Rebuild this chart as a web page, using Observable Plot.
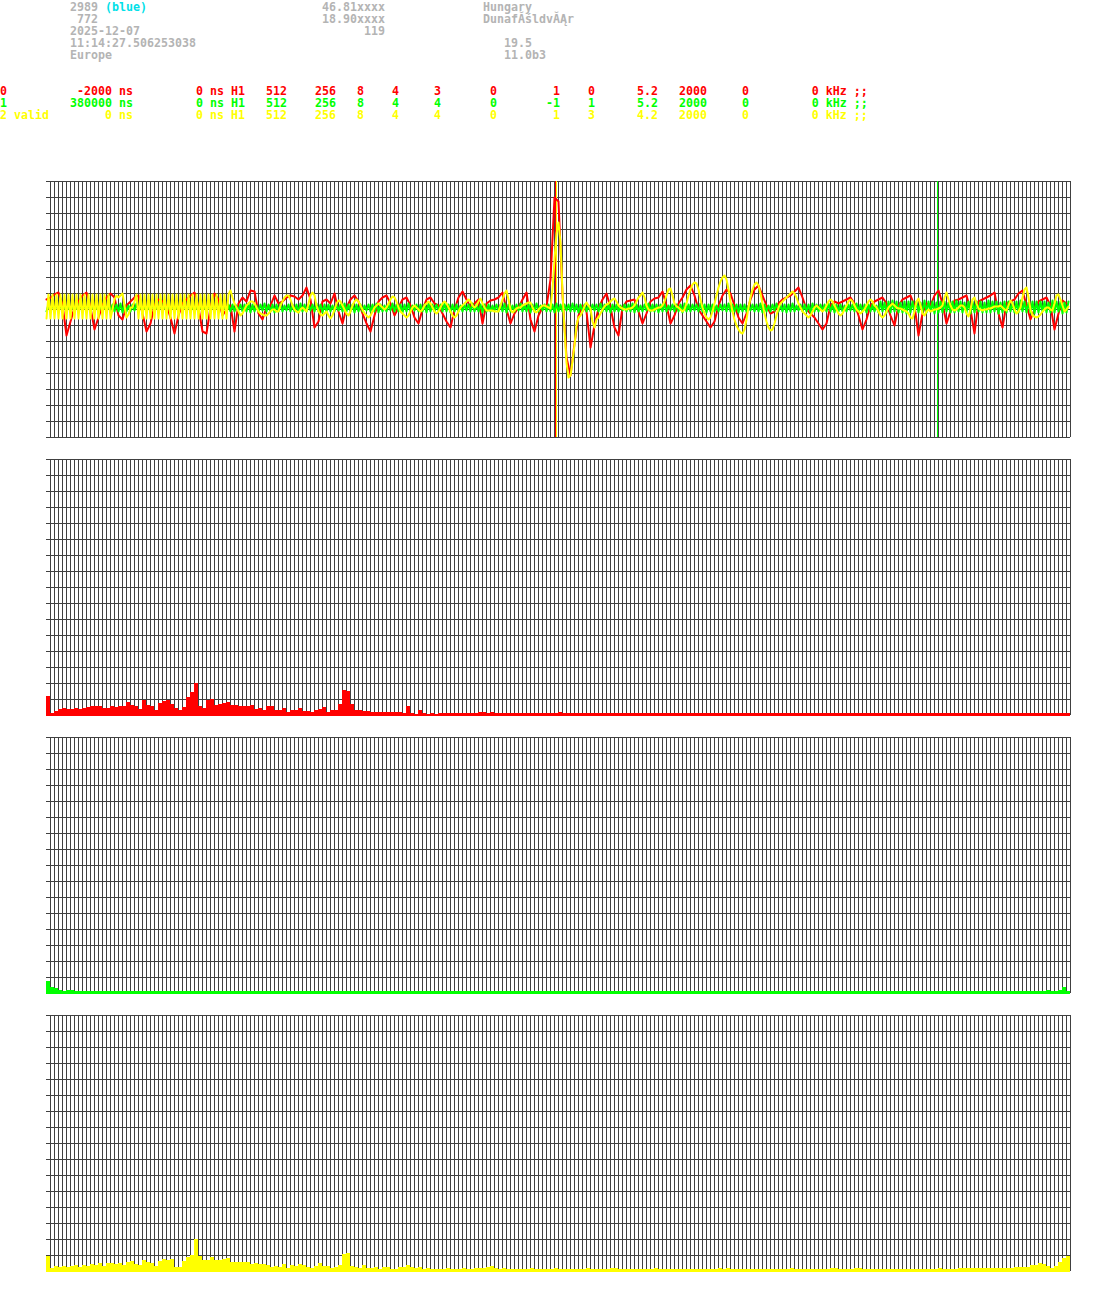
<!DOCTYPE html>
<html><head><meta charset="utf-8">
<script src="https://cdn.jsdelivr.net/npm/d3@7"></script>
<script src="https://cdn.jsdelivr.net/npm/@observablehq/plot@0.6"></script>
<style>
body{margin:0;background:#fff;}
#hdr{position:relative;height:175px;font-family:"DejaVu Sans Mono","Liberation Mono",monospace;font-weight:bold;font-size:11.63px;}
.t{position:absolute;white-space:pre;line-height:12px;}
svg{display:block}
</style></head><body>
<div id="hdr"></div>
<div id="charts"></div>
<script>
// ---------- header texts ----------
const infoText  = ["2989","(blue)","46.81xxxx","Hungary"," 772","18.90xxxx","DunafĂśldvĂĄr","2025-12-07","119","11:14:27.506253038","19.5","Europe","11.0b3"];
const infoRow   = [0,0,0,0,1,1,1,2,2,3,3,4,4];
const infoCol   = [10,15,46,69,10,46,69,10,52,10,72,10,72];
const infoColor = ["#b4b4b4","#00e0e8","#b4b4b4","#b4b4b4","#b4b4b4","#b4b4b4","#b4b4b4","#b4b4b4","#b4b4b4","#b4b4b4","#b4b4b4","#b4b4b4","#b4b4b4"];

const chanFields = [
 ["0","-2000 ns","0 ns H1","512","256","8","4","3","0","1","0","5.2","2000","0","0 kHz ;;"],
 ["1","380000 ns","0 ns H1","512","256","8","4","4","0","-1","1","5.2","2000","0","0 kHz ;;"],
 ["2 valid","0 ns","0 ns H1","512","256","8","4","4","0","1","3","4.2","2000","0","0 kHz ;;"]
];
const chanEnds  = [0,19,35,41,48,52,57,63,71,80,85,94,101,107,124];
const chanRow   = [7,8,9];
const chanColor = ["#ff0000","#00ff00","#ffff00"];

// ---------- waveforms (value = pixels above panel centre) ----------
// red: one value every 2 samples
const redWave = [
 10,12,15,17,5,-26,-12,2,8,14,17,2,-20,-8,4,12,
 16,12,-6,-10,4,8,12,14,-4,-22,-14,4,10,8,4,-8,
 -24,-6,6,10,14,17,2,-22,-24,2,16,10,-6,0,4,-22,
 6,12,8,19,18,-4,-10,2,4,14,6,8,12,14,13,10,
 14,22,10,-18,-12,8,10,6,16,-2,-14,2,10,14,8,-4,
 -14,-22,-6,8,12,14,6,-6,2,10,12,4,-8,-14,0,10,
 12,6,4,-4,-12,-18,0,12,18,10,2,6,10,-14,6,9,
 10,12,17,0,-14,-4,2,10,17,-10,-22,-6,2,3,30,112,
 108,15,-48,-66,-34,-6,4,-2,-38,-16,1,10,16,2,-18,-26,
 2,8,9,10,-2,-14,-4,8,11,12,18,4,-14,-6,6,12,
 20,24,14,0,-6,-12,-18,-12,4,14,20,16,4,-8,-14,-4,
 10,20,24,14,4,-4,-2,6,10,12,14,18,22,12,0,-4,
 -8,-14,-20,-14,4,8,6,8,10,12,6,-6,-20,-10,4,8,
 10,12,6,-6,-16,4,10,12,14,4,-26,-4,6,4,14,19,
 6,-14,-2,9,10,12,14,0,-24,8,10,12,14,17,-4,-18,
 6,8,10,16,19,4,-10,0,8,10,12,4,-20,-4,9,6
];
// yellow: one value per sample
const yellowWave = [
 -9,15,-9,15,-9,15,-9,15,-9,15,-9,15,-9,15,-9,15,-9,15,-9,15,-9,15,-9,15,-9,15,-9,15,-9,15,-9,15,
 -9,0,10,14,12,14,16,4,-8,-5,2,2,8,15,-9,15,-9,15,-9,15,-9,15,-9,15,-9,15,-9,15,-9,15,-9,15,
 -9,15,-9,15,-9,15,-9,15,-9,15,-9,15,-9,15,-9,15,-9,15,-9,15,-9,15,-9,15,-9,15,-9,15,19,12,6,2,
 -2,-6,-4,0,4,6,8,8,6,2,-2,-4,-5,-6,-6,-4,-2,0,0,-2,-2,4,8,12,14,14,10,4,0,-2,-3,0,
 2,0,-2,6,14,17,14,4,-2,-5,-6,-4,-2,-6,-9,-6,0,6,9,8,4,0,-4,-6,-2,4,8,10,8,4,0,-4,
 -6,-8,-6,-2,2,4,6,4,2,0,2,6,10,13,12,8,2,-2,-4,-6,-8,-6,-2,2,4,2,0,-2,0,4,6,8,
 6,2,-2,-4,-2,2,6,8,6,2,-2,-6,-8,-6,-2,2,4,6,8,10,8,4,2,4,8,11,6,2,-1,-1,-1,-1,
 -2,-2,-2,4,10,16,19,10,0,-3,-1,1,2,2,4,5,6,7,7,2,-2,-3,0,2,4,4,3,2,1,20,50,76,
 87,67,17,-20,-53,-68,-66,-52,-36,-16,-8,-6,-2,3,7,4,1,-12,-18,-10,-8,-4,0,3,5,6,8,10,11,8,4,2,
 1,0,0,1,1,2,4,8,12,14,17,12,4,0,-1,-1,0,1,2,2,4,8,14,20,21,14,6,3,2,0,-2,0,
 6,14,20,25,27,26,20,10,2,-4,-8,-10,-8,-2,6,14,22,28,32,34,30,20,8,-2,-10,-16,-20,-23,-24,-20,-10,2,
 12,20,25,27,24,16,6,-4,-12,-18,-21,-20,-14,-6,2,6,8,10,12,14,16,18,16,12,6,2,-2,-4,-6,-8,-6,-2,
 2,4,2,0,-2,0,4,8,10,8,4,0,-4,-6,-4,0,4,8,10,8,4,0,-2,-4,-2,0,4,8,10,8,4,2,
 -2,-6,-8,-6,-2,2,4,6,4,2,1,1,0,-1,-2,-4,-8,-9,-2,8,11,4,-4,-6,-2,0,-2,-1,0,0,1,2,
 4,12,17,10,4,0,-1,0,2,4,4,2,-4,-7,0,10,12,6,1,0,-1,0,0,1,1,2,3,3,3,4,2,0,
 -1,4,9,6,0,-4,-2,2,12,20,22,12,0,-6,-7,-8,-7,-5,-2,0,2,2,0,-1,6,14,15,10,4,-2,0,3
];
// green: one value per sample
const greenWave = [
 -2,5,-2,5,-1,5,-2,6,-2,5,-3,5,-2,5,-2,4,-2,5,-1,5,-2,6,-2,5,-2,5,-3,5,-2,5,-2,4,
 -1,5,-2,5,-2,6,-3,5,-2,4,-2,5,-1,6,-2,5,-2,5,-3,5,-2,6,-2,4,-1,5,-2,5,-2,5,-3,6,
 -2,5,-2,5,-1,5,-2,6,-2,5,-3,5,-2,5,-2,4,-2,5,-1,5,-2,6,-2,5,-2,5,-3,5,-2,5,-2,4,
 -1,5,-2,5,-2,6,-3,5,-2,4,-2,5,-1,6,-2,5,-2,5,-3,5,-2,6,-2,4,-1,5,-2,5,-2,5,-3,6,
 -2,5,-2,5,-1,5,-2,6,-2,5,-3,5,-2,5,-2,4,-2,5,-1,5,-2,6,-2,5,-2,5,-3,5,-2,5,-2,4,
 -1,5,-2,5,-2,6,-3,5,-2,4,-2,5,-1,6,-2,5,-2,5,-3,5,-2,6,-2,4,-1,5,-2,5,-2,5,-3,6,
 -2,5,-2,5,-1,5,-2,6,-2,5,-3,5,-2,5,-2,4,-2,5,-1,5,-2,6,-2,5,-2,5,-3,5,-2,5,-2,4,
 -1,5,-2,5,-2,6,-3,5,-2,4,-2,5,-1,6,-2,5,-2,5,-3,5,-2,6,-2,4,-1,5,-2,5,-2,5,-3,6,
 -2,5,-2,5,-1,5,-2,6,-2,5,-3,5,-2,5,-2,4,-2,5,-1,5,-2,6,-2,5,-2,5,-3,5,-2,5,-2,4,
 -1,5,-2,5,-2,6,-3,5,-2,4,-2,5,-1,6,-2,5,-2,5,-3,5,-2,6,-2,4,-1,5,-2,5,-2,5,-3,6,
 -2,5,-2,5,-1,5,-2,6,-2,5,-3,5,-2,5,-2,4,-2,5,-1,5,-2,6,-2,5,-2,5,-3,5,-2,5,-2,4,
 -1,5,-2,5,-2,6,-3,5,-2,4,-2,5,-1,6,-2,5,-2,5,-3,5,-2,6,-2,4,-1,5,-2,5,-2,5,-3,6,
 -2,5,-2,5,-1,5,-2,6,-2,5,-3,5,-2,5,-2,4,-2,5,-1,5,-2,6,-2,5,-2,5,-3,5,-2,5,-2,4,
 -3,8,-2,7,-3,8,-3,9,-2,8,-3,7,-3,8,-4,8,-3,8,-2,8,-3,7,-3,9,-3,8,-2,8,-4,7,-3,8,
 -3,8,-2,7,-3,8,-3,9,-2,8,-3,7,-3,8,-4,8,-3,8,-2,8,-3,7,-3,9,-3,8,-2,8,-4,7,-3,8,
 -3,8,-2,7,-3,8,-3,9,-2,8,-3,7,-3,8,-4,8,-3,8,-2,8,-3,7,-3,9,-3,8,-2,8,-4,7,-3,8
];
// trigger markers (sample index)
const markerSample = [254.5, 255, 445.5];
const markerColor  = ["#ff0000","#ffff00","#00ff00"];

// ---------- spectra (bar heights, 256 bins) ----------
const redSpec = [
 19,2,4,6,7,6,6,7,6,7,8,9,9,9,7,7,
 9,8,9,9,13,10,9,6,15,10,9,5,12,14,15,11,
 7,5,8,18,23,32,9,7,15,16,10,11,12,13,10,10,
 9,9,9,10,6,7,5,9,9,5,5,7,3,5,5,7,
 4,4,3,5,6,8,3,5,5,11,25,24,11,5,5,4,
 4,3,3,3,3,3,3,3,3,2,9,2,1,5,2,1,
 2,1,2,2,2,2,2,2,2,2,2,2,3,3,2,3,
 2,2,2,2,2,2,2,2,2,2,2,2,2,2,2,2,
 3,2,2,2,2,2,2,2,2,2,2,2,2,2,2,2,
 2,2,2,2,2,2,2,2,2,2,2,2,2,2,2,2,
 2,2,2,2,2,2,2,2,2,2,2,2,2,2,2,2,
 2,2,2,2,2,2,2,2,2,2,2,2,2,2,2,2,
 2,2,2,2,2,2,2,2,2,2,2,2,2,2,2,2,
 2,2,2,2,2,2,2,2,2,2,2,2,2,2,2,2,
 2,2,2,2,2,2,2,2,2,2,2,2,2,2,2,2,
 2,2,2,2,2,2,2,2,2,2,2,2,2,2,2,2
];
const greenSpec = [
 12,6,5,3,2,3,3,2,2,2,2,2,2,2,2,2,
 2,2,2,2,2,2,2,2,2,2,2,2,2,2,2,2,
 2,2,2,2,2,2,2,2,2,2,2,2,2,2,2,2,
 2,2,2,2,2,2,2,2,2,2,2,2,2,2,2,2,
 2,2,2,2,2,2,2,2,2,2,2,2,2,2,2,2,
 2,2,2,2,2,2,2,2,2,2,2,2,2,2,2,2,
 2,2,2,2,2,2,2,2,2,2,2,2,2,2,2,2,
 2,2,2,2,2,2,2,2,2,2,2,2,2,2,2,2,
 2,2,2,2,2,2,2,2,2,2,2,2,2,2,2,2,
 2,2,2,2,2,2,2,2,2,2,2,2,2,2,2,2,
 2,2,2,2,2,2,2,2,2,2,2,2,2,2,2,2,
 2,2,2,2,2,2,2,2,2,2,2,2,2,2,2,2,
 2,2,2,2,2,2,2,2,2,2,2,2,2,2,2,2,
 2,2,2,2,2,2,2,2,2,2,2,2,2,2,2,2,
 2,2,2,2,2,2,2,2,2,2,2,2,2,2,2,2,
 2,2,2,2,2,2,2,2,2,2,3,2,2,3,6,2
];
const yellowSpec = [
 15,3,5,4,5,4,5,6,4,6,5,7,6,8,5,8,
 8,7,8,6,9,10,7,6,11,9,8,5,10,12,11,12,
 4,4,10,14,16,32,15,11,11,14,11,11,12,13,9,9,
 9,9,9,7,8,7,7,6,4,5,4,7,3,6,5,7,
 6,4,3,5,8,5,5,3,4,6,17,18,5,4,3,6,
 3,3,4,2,4,4,2,2,4,4,6,4,3,4,2,3,
 2,2,2,2,3,2,2,2,3,2,2,3,3,3,4,5,
 3,2,3,2,2,2,2,2,2,3,2,2,2,2,2,3,
 2,2,2,2,2,2,2,3,2,2,2,2,2,3,3,2,
 2,2,2,2,2,2,2,2,3,2,2,2,2,2,2,2,
 2,2,2,2,2,2,2,2,3,2,3,2,2,2,2,2,
 2,2,2,2,2,2,2,2,2,2,3,2,2,2,2,2,
 2,2,2,2,3,3,2,2,2,2,3,3,2,2,2,2,
 2,2,2,2,2,2,2,2,2,2,2,2,2,2,2,3,
 2,2,2,2,3,3,3,3,3,3,3,3,3,3,3,3,
 3,3,4,4,4,4,6,6,8,7,5,3,5,9,13,15
];

// ---------- header rendering ----------
const CW = 7, LH = 12;
const hdr = document.getElementById("hdr");
function put(text, col, row, color){
  const d = document.createElement("div");
  d.className = "t";
  d.textContent = text;
  d.style.left = (col*CW) + "px";
  d.style.top = (row*LH + 1) + "px";
  d.style.color = color;
  hdr.appendChild(d);
}
infoText.forEach((t,i)=>put(t, infoCol[i], infoRow[i], infoColor[i]));
chanFields.forEach((fields,r)=>{
  let line = fields[0];
  for (let k=1;k<fields.length;k++) line += fields[k].padStart(chanEnds[k]-line.length);
  put(line, 0, chanRow[r], chanColor[r]);
});

// ---------- plots ----------
const gridColor = "#404040";
const vX = d3.range(4, 1025, 4);
function panel(yDomain, yTicks, marks){
  return Plot.plot({
    width: 1095, height: 278,
    marginTop: 6, marginBottom: 16, marginLeft: 46, marginRight: 25,
    x: {domain: [0, 1024], axis: null},
    y: {domain: yDomain, axis: null},
    style: {background: "white", overflow: "visible"},
    marks: [
      Plot.ruleY(yTicks, {x1: 0, x2: 1024, stroke: gridColor, shapeRendering: "crispEdges"}),
      Plot.ruleX(vX, {y1: yDomain[0], y2: yDomain[1], stroke: gridColor, shapeRendering: "crispEdges"}),
      ...marks
    ]
  });
}
const charts = document.getElementById("charts");

// waveform panel
const wfMarks = [];
markerSample.forEach((s,i)=>wfMarks.push(Plot.ruleX([2*s], {y1:-128, y2:128, stroke: markerColor[i], shapeRendering:"crispEdges"})));
wfMarks.push(Plot.line(redWave,    {x:(d,i)=>4*i, y:d=>d, stroke:"#ff0000", strokeWidth:2}));
wfMarks.push(Plot.line(greenWave,  {x:(d,i)=>2*i, y:d=>d, stroke:"#00ff00", strokeWidth:2}));
wfMarks.push(Plot.line(yellowWave, {x:(d,i)=>2*i, y:d=>d, stroke:"#ffff00", strokeWidth:2}));
charts.appendChild(panel([-128,128], d3.range(-128,129,16), wfMarks));

// spectrum panels
function specMarks(data, color){
  return [Plot.rect(data, {x1:(d,i)=>4*i, x2:(d,i)=>4*i+4, y1:0, y2:d=>d, fill:color, insetBottom:-1, shapeRendering:"crispEdges"})];
}
charts.appendChild(panel([0,256], d3.range(0,257,16), specMarks(redSpec, "#ff0000")));
charts.appendChild(panel([0,256], d3.range(0,257,16), specMarks(greenSpec, "#00ff00")));
charts.appendChild(panel([0,256], d3.range(0,257,16), specMarks(yellowSpec, "#ffff00")));
</script>
</body></html>
